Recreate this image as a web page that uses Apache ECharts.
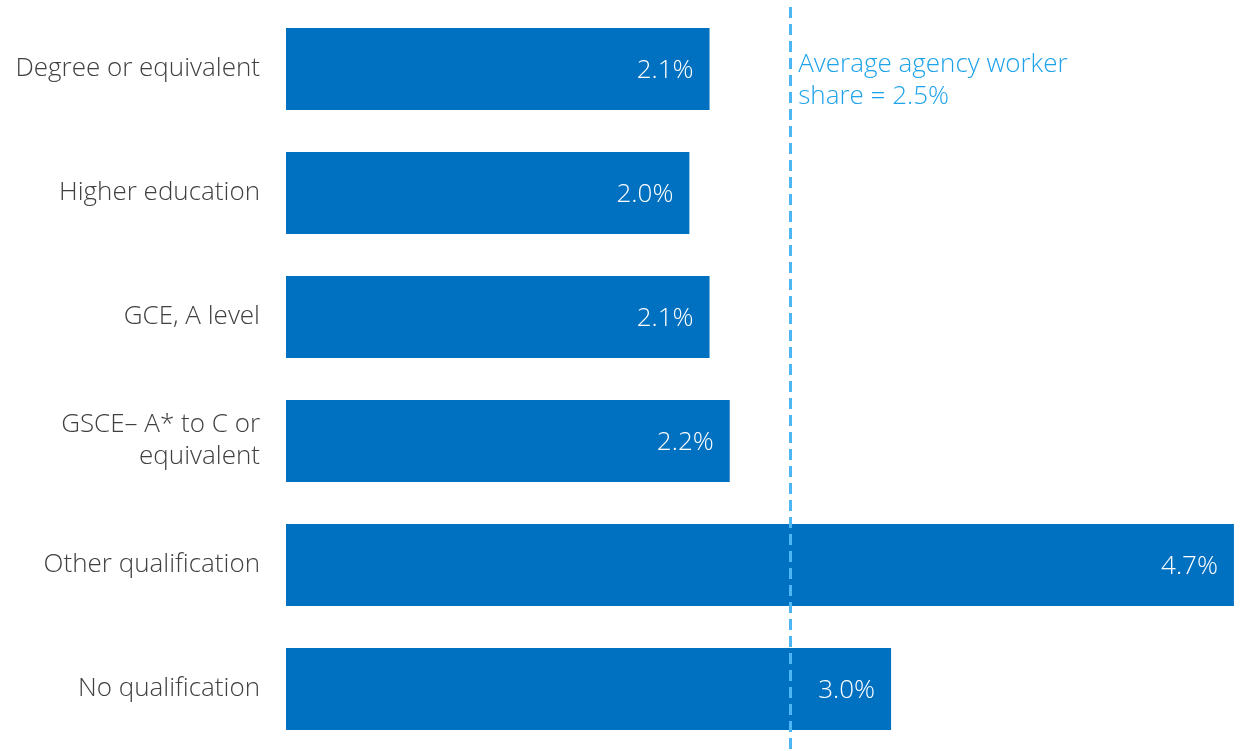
<!DOCTYPE html>
<html>
<head>
<meta charset="utf-8">
<script src="https://cdn.jsdelivr.net/npm/echarts@6/dist/echarts.min.js"></script>
<style>
  html, body { margin: 0; padding: 0; background: #ffffff; }
  #chart { width: 1242px; height: 751px; }
</style>
</head>
<body>
<div id="chart"></div>
<script>
// Agency worker share by highest qualification (%)
const categories = [
  'Degree or equivalent',
  'Higher education',
  'GCE, A level',
  'GSCE\u2013 A* to C or\nequivalent',
  'Other qualification',
  'No qualification'
];
const shares = [2.1, 2.0, 2.1, 2.2, 4.7, 3.0];
const averageShare = 2.5;
const averageLabel = 'Average agency worker\nshare = 2.5%';

const FONT = '"Open Sans", "Noto Sans", sans-serif';
const chart = echarts.init(document.getElementById('chart'), null, { renderer: 'canvas' });

chart.setOption({
  animation: false,
  backgroundColor: '#ffffff',
  grid: { left: 286, right: 0, top: 7, bottom: 0, containLabel: false },
  xAxis: {
    type: 'value',
    min: 0,
    max: 4.74,
    show: false
  },
  yAxis: {
    type: 'category',
    data: categories,
    inverse: true,
    axisLine: { show: false },
    axisTick: { show: false },
    splitLine: { show: false },
    axisLabel: {
      margin: 26,
      color: '#404040',
      fontFamily: FONT,
      fontWeight: 300,
      fontSize: 26,
      lineHeight: 32,
      padding: [4, 0, 0, 0],
      align: 'right'
    }
  },
  series: [{
    type: 'bar',
    data: shares,
    barWidth: 82,
    itemStyle: { color: '#0070c0' },
    label: {
      show: true,
      position: 'insideRight',
      distance: 16,
      offset: [0, 2],
      color: '#ffffff',
      fontFamily: FONT,
      fontWeight: 300,
      fontSize: 26,
      formatter: p => p.value.toFixed(1) + '%'
    },
    markLine: {
      silent: true,
      symbol: 'none',
      z: 10,
      lineStyle: { color: '#4db6f5', width: 3, type: [11, 6] },
      label: { show: false },
      data: [{ xAxis: averageShare }]
    }
  }]
});

// Annotation beside the average line
const lineX = chart.convertToPixel({ xAxisIndex: 0 }, averageShare);
chart.setOption({
  graphic: [{
    type: 'text',
    left: lineX + 8,
    top: 49,
    style: {
      text: averageLabel,
      fill: '#1ea3ea',
      font: '300 26px ' + FONT,
      lineHeight: 32
    }
  }]
});
</script>
</body>
</html>
